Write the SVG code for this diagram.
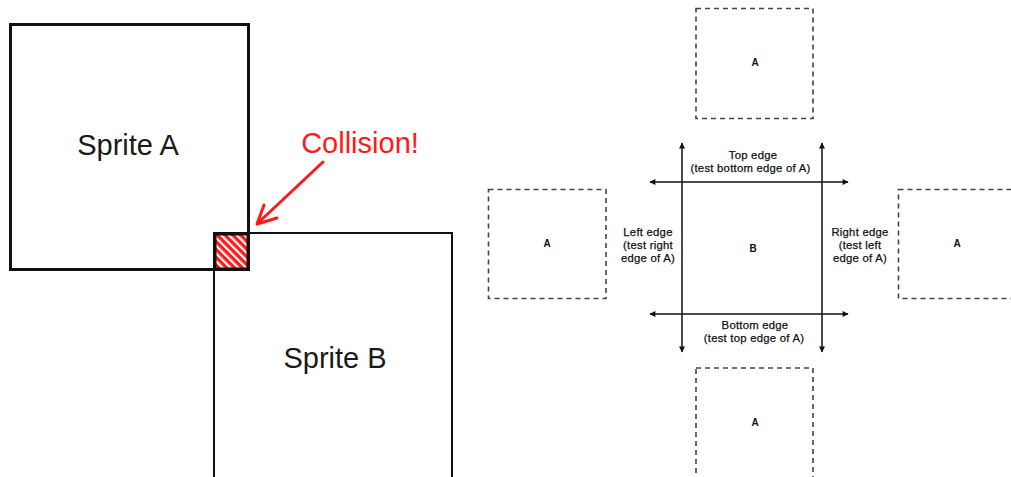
<svg xmlns="http://www.w3.org/2000/svg" width="1011" height="477" viewBox="0 0 1011 477">
  <style>
    .sprite { fill: none; stroke: #111; }
    .big { font-family: "Liberation Sans", Arial, sans-serif; font-size: 29px; text-anchor: middle; fill: #1a1a1a; }
    .ghost { fill: none; stroke: #444; stroke-width: 1.6; stroke-dasharray: 5 4; }
    .small { font-family: "Liberation Sans", Arial, sans-serif; font-size: 11.3px; text-anchor: middle; fill: #111; stroke: #111; stroke-width: 0.25; letter-spacing: 0.25px; }
    .tag { font-family: "Liberation Sans", Arial, sans-serif; font-size: 10px; font-weight: bold; text-anchor: middle; fill: #111; }
    .axis { stroke: #111; stroke-width: 1.5; fill: none; marker-start: url(#tip); marker-end: url(#tip); }
  </style>
  <defs>
    <pattern id="hatch" width="5.5" height="5.5" patternUnits="userSpaceOnUse" patternTransform="rotate(-45)">
      <rect width="5.5" height="5.5" fill="#ff1a1a"/>
      <rect x="0" y="0" width="2.2" height="5.5" fill="#fff"/>
    </pattern>
    <marker id="tip" viewBox="0 0 10 10" refX="9" refY="5" markerWidth="7" markerHeight="6" markerUnits="userSpaceOnUse" orient="auto-start-reverse">
      <path d="M0,0 L10,5 L0,10 z" fill="#111"/>
    </marker>
  </defs>

  <!-- left: two overlapping sprites -->
  <g id="sprite-b">
    <rect class="sprite" x="214" y="233" width="238" height="250" stroke-width="2"/>
    <text class="big" x="335" y="368">Sprite B</text>
  </g>
  <g id="sprite-a">
    <rect class="sprite" x="10.5" y="24.5" width="238" height="245" stroke-width="3"/>
    <text class="big" x="128" y="155">Sprite A</text>
  </g>
  <g id="overlap">
    <rect x="215" y="234" width="33" height="35" fill="url(#hatch)" stroke="#111" stroke-width="3"/>
  </g>
  <g id="collision-label">
    <text class="big" x="360" y="153" style="fill:#ff1a1a">Collision!</text>
  </g>

  <!-- right: edge tests around B -->
  <g id="connectors">
    <line class="axis" x1="682" y1="352" x2="682" y2="143"/>
    <line class="axis" x1="822" y1="352" x2="822" y2="143"/>
    <line class="axis" x1="650" y1="182" x2="848" y2="182"/>
    <line class="axis" x1="650" y1="314" x2="848" y2="314"/>
    <!-- red pointer to the overlap -->
    <g stroke="#ff1a1a" stroke-width="3" fill="none" stroke-linecap="round" stroke-linejoin="round">
      <line x1="323" y1="162" x2="258" y2="223"/>
      <polyline points="264,205 257,224 277,218"/>
    </g>
  </g>

  <g id="box-b">
    <text class="tag" x="753" y="252">B</text>
  </g>
  <g id="a-top">
    <rect class="ghost" x="696" y="8.5" width="117" height="110"/>
    <text class="tag" x="755" y="66">A</text>
  </g>
  <g id="a-bottom">
    <rect class="ghost" x="696" y="368" width="117" height="120"/>
    <text class="tag" x="755" y="426">A</text>
  </g>
  <g id="a-left">
    <rect class="ghost" x="488.5" y="189.5" width="117.5" height="109"/>
    <text class="tag" x="547" y="247">A</text>
  </g>
  <g id="a-right">
    <rect class="ghost" x="898.5" y="189.5" width="130" height="109"/>
    <text class="tag" x="957" y="247">A</text>
  </g>

  <g id="label-top">
    <text class="small" x="753" y="159">Top edge</text>
    <text class="small" x="750.5" y="172">(test bottom edge of A)</text>
  </g>
  <g id="label-bottom">
    <text class="small" x="755" y="329">Bottom edge</text>
    <text class="small" x="754" y="342">(test top edge of A)</text>
  </g>
  <g id="label-left">
    <text class="small" x="648" y="236">Left edge</text>
    <text class="small" x="648" y="249">(test right</text>
    <text class="small" x="648" y="262">edge of A)</text>
  </g>
  <g id="label-right">
    <text class="small" x="860" y="236">Right edge</text>
    <text class="small" x="860" y="249">(test left</text>
    <text class="small" x="860" y="262">edge of A)</text>
  </g>
</svg>
